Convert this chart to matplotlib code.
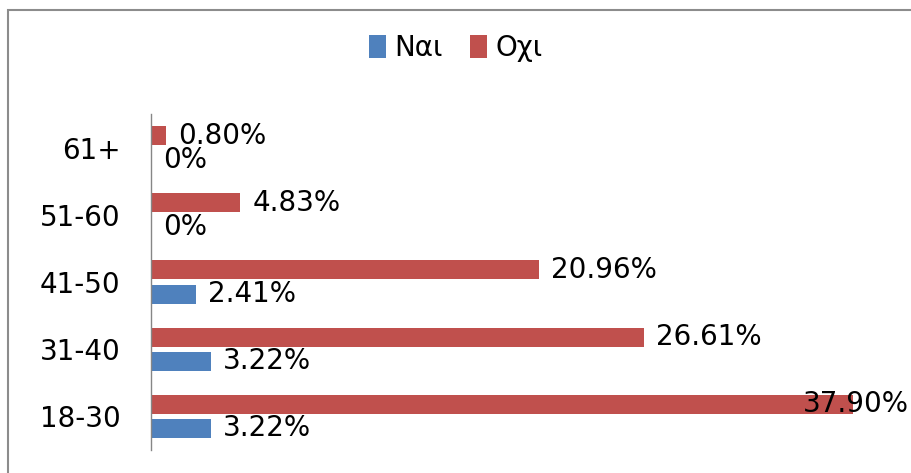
import matplotlib
matplotlib.use('Agg')

import matplotlib.pyplot as plt
import matplotlib.transforms as mtransforms
from matplotlib.patches import Rectangle
import numpy as np

# data
ages = ['18-30', '31-40', '41-50', '51-60', '61+']
nai = [3.22, 3.22, 2.41, 0.0, 0.0]
oxi = [37.90, 26.61, 20.96, 4.83, 0.80]
series_names = ['Ναι', 'Οχι']

BLUE = '#4F81BD'
RED = '#C0504D'

plt.rcParams['font.family'] = ['DejaVu Sans']

fig = plt.figure(figsize=(9.11, 4.73), dpi=100)
ax = fig.add_axes([151 / 911, 1 - 450 / 473, 741 / 911, 336 / 473])

y = np.arange(len(ages))
h = 0.28
off = 0.18
b_oxi = ax.barh(y + off, oxi, height=h, color=RED, label=series_names[1])
b_nai = ax.barh(y - off, nai, height=h, color=BLUE, label=series_names[0])

ax.set_xlim(0, 40)
ax.set_ylim(-0.5, 4.5)
ax.set_yticks(y)
ax.set_yticklabels(ages, fontsize=20)
ax.set_xticks([])
ax.tick_params(axis='y', length=0, pad=22)
for s in ['top', 'right', 'bottom']:
    ax.spines[s].set_visible(False)
ax.spines['left'].set_color('#868686')
ax.spines['left'].set_linewidth(1)

# data labels
blend = mtransforms.blended_transform_factory(ax.transAxes, ax.transData)
for vals, ypos in [(oxi, y + off), (nai, y - off)]:
    for v, yy in zip(vals, ypos):
        txt = '%.2f%%' % v if v > 0 else '0%'
        if v > 36:
            # label pushed back inside the chart area
            ax.annotate(txt, xy=(1, yy), xycoords=blend, xytext=(17, 0),
                        textcoords='offset pixels', ha='right', va='center',
                        fontsize=20, annotation_clip=False)
        else:
            ax.annotate(txt, xy=(v, yy), xytext=(12, 0),
                        textcoords='offset pixels', ha='left', va='center',
                        fontsize=20, annotation_clip=False)

leg = fig.legend(handles=[b_nai, b_oxi], labels=series_names, loc='center',
                 bbox_to_anchor=(0.5, 1 - 48 / 473), ncol=2, frameon=False,
                 fontsize=20, handlelength=0.6, handleheight=0.9,
                 handletextpad=0.3, columnspacing=1.0)

# outer chart border (left and top visible)
fig.patches.append(Rectangle((7.5 / 911, -0.1), 1.2, 1.1 - 10.5 / 473,
                             transform=fig.transFigure, fill=False,
                             edgecolor='#8c8c8c', linewidth=1.5))

fig.savefig('out.png', dpi=100)
